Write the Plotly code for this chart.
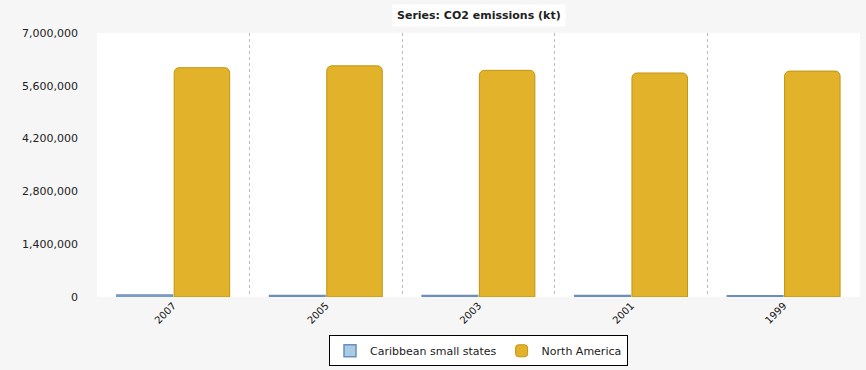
import plotly.graph_objects as go

years = ["2007", "2005", "2003", "2001", "1999"]
caribbean = [52000, 40000, 38000, 37000, 36000]
north_america = [6080000, 6130000, 6010000, 5940000, 5990000]
y_ticks = [0, 1400000, 2800000, 4200000, 5600000, 7000000]

fig = go.Figure()
fig.add_trace(go.Bar(
    x=years, y=caribbean, name="Caribbean small states",
    marker=dict(color="#a9cbe6", line=dict(color="#6b8fb8", width=1.5)),
))
fig.add_trace(go.Bar(
    x=years, y=north_america, name="North America",
    marker=dict(color="#e2b22a", line=dict(color="#c1950f", width=1), cornerradius=5),
))

fig.update_layout(
    width=866, height=370,
    margin=dict(l=97, r=6, t=33, b=73, autoexpand=False),
    paper_bgcolor="#f6f6f6",
    plot_bgcolor="#ffffff",
    barmode="group",
    bargap=0.25,
    bargroupgap=0.03,
    font=dict(family="DejaVu Sans", size=11, color="#222222"),
    showlegend=True,
    legend=dict(
        orientation="h", x=0.5, xanchor="center", y=-0.145, yanchor="top",
        bgcolor="#ffffff", bordercolor="#000000", borderwidth=1,
        font=dict(family="DejaVu Sans", size=11, color="#222222"),
        itemwidth=30, tracegroupgap=0,
    ),
    annotations=[dict(
        text="<b>Series: CO2 emissions (kt)</b>", xref="paper", yref="paper",
        x=0.5, y=1.0, yanchor="bottom", yshift=6, showarrow=False,
        bgcolor="#ffffff", borderpad=4,
        font=dict(family="DejaVu Sans", size=11, color="#222222"),
    )],
)
fig.update_xaxes(
    type="category", tickson="boundaries", showgrid=True, griddash="dot",
    gridcolor="#bbbbbb", gridwidth=1, tickangle=-45, ticks="",
    tickfont=dict(family="DejaVu Sans", size=10, color="#111111"),
    showline=False, zeroline=False, automargin=False,
)
fig.update_yaxes(
    range=[0, 7000000], tickvals=y_ticks, tickformat=",", showgrid=False,
    zeroline=False, showline=False, ticks="", automargin=False,
    tickfont=dict(family="DejaVu Sans", size=11, color="#222222"),
    ticklabelstandoff=18,
)
fig.write_html("out.html")
